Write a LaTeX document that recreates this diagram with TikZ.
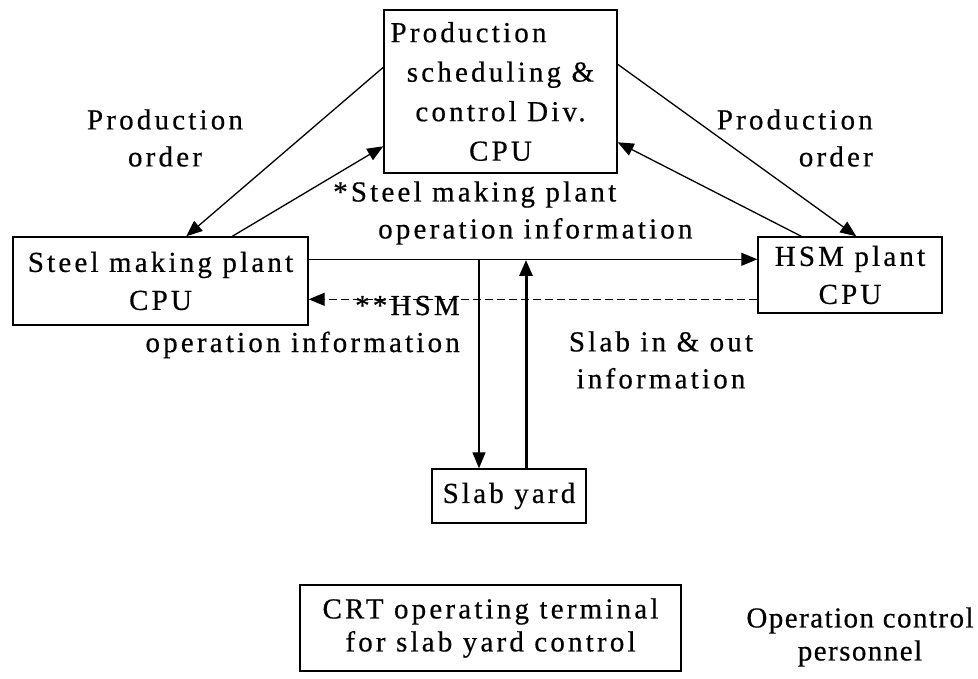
\documentclass[tikz,border=0pt]{standalone}
\usepackage{fontspec}
\setmainfont{Liberation Serif}[LetterSpace=11,FakeBold=0.5]
\usetikzlibrary{arrows.meta}
\begin{document}
\begin{tikzpicture}[x=1pt,y=-1pt,
  box/.style={draw,line width=1.4pt,inner sep=0pt,align=center,font=\fontsize{29}{38}\selectfont},
  lbl/.style={inner sep=0pt,font=\fontsize{29}{37}\selectfont},
  conn/.style={line width=1.3pt,-{Triangle[length=16pt,width=13pt]}},
  thickconn/.style={line width=3pt,-{Triangle[length=16pt,width=13pt]}},
  dashconn/.style={conn,dash pattern=on 8pt off 4pt}
]
\useasboundingbox (0,0) rectangle (978,679);
% boxes
\node[box,minimum width=233pt,minimum height=163pt,font=\fontsize{29}{39.5}\selectfont] (pscd) at (500.5,91.5) {\hspace*{-64pt}Production\\scheduling \&\\control Div.\\CPU};
\node[box,minimum width=295pt,minimum height=88pt] (smp) at (160.5,281) {Steel making plant\\CPU};
\node[box,minimum width=184pt,minimum height=76pt] (hsm) at (850,275) {HSM plant\\CPU};
\node[box,minimum width=154pt,minimum height=54pt] (slab) at (509,496) {Slab yard};
\node[box,minimum width=381pt,minimum height=86pt,font=\fontsize{29}{33}\selectfont] (crt) at (490.5,628) {CRT operating terminal\\for slab yard control};
% connectors
\draw[conn] ([yshift=-58pt]pscd.north west) -- ([xshift=174pt]smp.north west);
\draw[conn] ([xshift=220pt]smp.north west) -- ([yshift=-137pt]pscd.north west);
\draw[conn] ([yshift=-55pt]pscd.north east) -- ([xshift=99pt]hsm.north west);
\draw[conn] ([xshift=44pt]hsm.north west) -- ([yshift=-133pt]pscd.north east);
\draw[conn] ([yshift=-23pt]smp.north east) -- ([yshift=-23pt]hsm.north west);
\draw[dashconn] ([yshift=-63pt]hsm.north west) -- ([yshift=-63pt]smp.north east);
\coordinate (j1) at (479,260);
\coordinate (j2) at (526,260);
\draw[conn] (j1) -- (j1 |- slab.north);
\draw[thickconn] (j2 |- slab.north) -- (j2);
% labels
\node[lbl,align=center] (po1) at (165,138) {Production\\order};
\node[lbl,align=right,anchor=east] (po2) at (873,138) {Production\\order};
\node[lbl,align=left,anchor=west] (smi) at (333,213) {*Steel making plant\\\hspace*{45pt}operation information};
\node[lbl,align=right,anchor=east] (hoi) at (460,327) {**HSM\\operation information};
\node[lbl,align=center] (sio) at (661,360) {Slab in \& out\\information};
\node[lbl,align=center,font=\fontsize{29}{33}\selectfont\addfontfeature{LetterSpace=5}] (ocp) at (860,637) {Operation control\\personnel};
\end{tikzpicture}
\end{document}
